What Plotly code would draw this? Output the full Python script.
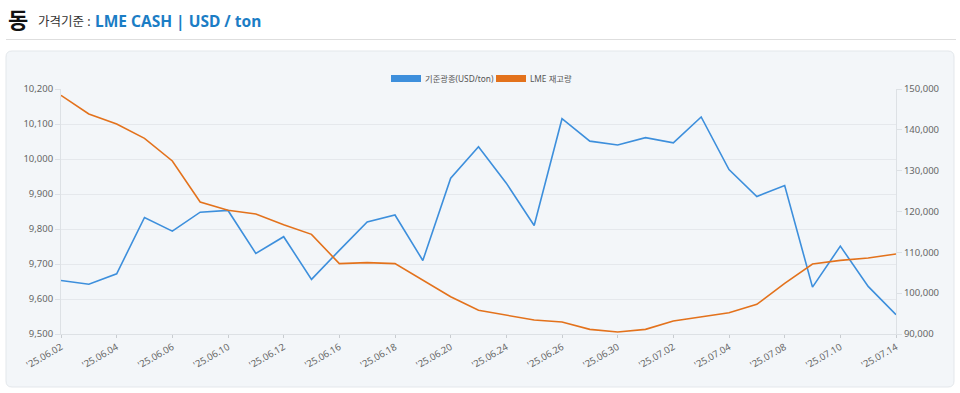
import plotly.graph_objects as go

dates = ["'25.06.02", "'25.06.03", "'25.06.04", "'25.06.05", "'25.06.06",
         "'25.06.09", "'25.06.10", "'25.06.11", "'25.06.12", "'25.06.13",
         "'25.06.16", "'25.06.17", "'25.06.18", "'25.06.19", "'25.06.20",
         "'25.06.23", "'25.06.24", "'25.06.25", "'25.06.26", "'25.06.27",
         "'25.06.30", "'25.07.01", "'25.07.02", "'25.07.03", "'25.07.04",
         "'25.07.07", "'25.07.08", "'25.07.09", "'25.07.10", "'25.07.11",
         "'25.07.14"]

price = [9653, 9642, 9672, 9833, 9794, 9848, 9853, 9730, 9778, 9656,
         9739, 9820, 9840, 9710, 9945, 10035, 9931, 9810, 10115, 10051,
         10040, 10061, 10046, 10120, 9970, 9893, 9924, 9634, 9751, 9636,
         9555]

stock = [148450, 143880, 141430, 137920, 132370, 122330, 120290, 119390, 116780, 114410,
         107230, 107470, 107230, 103220, 99140, 95800, 94570, 93430, 92940, 91140,
         90490, 91140, 93180, 94250, 95220, 97270, 102410, 107140, 108040, 108610,
         109590]

tick_labels = dates[::2]
series_names = ["기준광종(USD/ton)", "LME 재고량"]
colors = ["#3d8fdc", "#e3721c"]

FONT = "Noto Sans, Noto Sans CJK KR, sans-serif"
PANEL = "#f3f6f9"

fig = go.Figure()
fig.add_trace(go.Scatter(x=dates, y=price, mode="lines", name=series_names[0],
                         line=dict(color=colors[0], width=1.6), yaxis="y", showlegend=False))
fig.add_trace(go.Scatter(x=dates, y=stock, mode="lines", name=series_names[1],
                         line=dict(color=colors[1], width=1.6), yaxis="y2", showlegend=False))

L, R, T, B = 61, 896, 89, 334
W, H = R - L, B - T


def px(x):
    return (x - L) / W


def py(y):
    return (B - y) / H


def rounded(x0, y0, x1, y1, r):
    rx, ry = r / W, r / H
    X0, X1, Y0, Y1 = px(x0), px(x1), py(y0), py(y1)  # Y0 top, Y1 bottom
    return (f"M {X0+rx} {Y0} L {X1-rx} {Y0} Q {X1} {Y0} {X1} {Y0-ry} "
            f"L {X1} {Y1+ry} Q {X1} {Y1} {X1-rx} {Y1} "
            f"L {X0+rx} {Y1} Q {X0} {Y1} {X0} {Y1+ry} "
            f"L {X0} {Y0-ry} Q {X0} {Y0} {X0+rx} {Y0} Z")


shapes = [
    dict(type="path", xref="paper", yref="paper", path=rounded(6, 51, 954, 387, 6),
         fillcolor=PANEL, line=dict(color="#e3e7eb", width=1), layer="below"),
    dict(type="line", xref="paper", yref="paper", x0=px(6), x1=px(956), y0=py(39.5), y1=py(39.5),
         line=dict(color="#dedede", width=1)),
    dict(type="rect", xref="paper", yref="paper", x0=px(391), x1=px(421), y0=py(82), y1=py(75),
         fillcolor=colors[0], line=dict(width=0)),
    dict(type="rect", xref="paper", yref="paper", x0=px(496), x1=px(526), y0=py(82), y1=py(75),
         fillcolor=colors[1], line=dict(width=0)),
]

annotations = [
    dict(text="<b>동</b>", x=px(6), y=py(19), xref="paper", yref="paper", xanchor="left",
         yanchor="middle", showarrow=False, font=dict(size=22, color="#111", family=FONT)),
    dict(text="가격기준 :", x=px(36), y=py(21), xref="paper", yref="paper", xanchor="left",
         yanchor="middle", showarrow=False, font=dict(size=12.5, color="#333", family=FONT)),
    dict(text="<b>LME CASH | USD / ton</b>", x=px(93), y=py(21), xref="paper", yref="paper",
         xanchor="left", yanchor="middle", showarrow=False,
         font=dict(size=15.5, color="#1b7dc5", family=FONT)),
    dict(text=series_names[0], x=px(423), y=py(78.5), xref="paper", yref="paper", xanchor="left",
         yanchor="middle", showarrow=False, font=dict(size=8.3, color="#555", family=FONT)),
    dict(text=series_names[1], x=px(528), y=py(78.5), xref="paper", yref="paper", xanchor="left",
         yanchor="middle", showarrow=False, font=dict(size=8.3, color="#555", family=FONT)),
]

fig.update_layout(
    width=960, height=393,
    margin=dict(l=L, r=960 - R, t=T, b=393 - B, pad=0),
    paper_bgcolor="white", plot_bgcolor=PANEL,
    font=dict(family=FONT, size=10, color="#666"),
    shapes=shapes, annotations=annotations,
    showlegend=False,
    xaxis=dict(type="category", range=[0, len(dates) - 1], tickvals=tick_labels,
               ticktext=tick_labels, tickangle=-30, showgrid=False, showline=True,
               linecolor="#dde1e5", linewidth=1, ticks="outside", ticklen=3,
               tickcolor="#c8ccd0", tickfont=dict(size=9.5, color="#666"), zeroline=False),
    yaxis=dict(range=[9500, 10200], dtick=100, tickformat=",", showgrid=True,
               gridcolor="#e5e8ec", gridwidth=1, showline=True, linecolor="#dde1e5",
               ticks="outside", ticklen=5, tickcolor="#dde1e5", zeroline=False,
               tickfont=dict(size=9.5, color="#666")),
    yaxis2=dict(range=[90000, 150000], dtick=10000, tickformat=",", overlaying="y",
                side="right", showgrid=False, showline=True, linecolor="#dde1e5",
                ticks="outside", ticklen=5, tickcolor="#dde1e5", zeroline=False,
                tickfont=dict(size=9.5, color="#666")),
)

fig.write_html("out.html", config={"displayModeBar": False},
               post_script="document.body.style.margin='0';document.body.style.overflow='hidden';")
